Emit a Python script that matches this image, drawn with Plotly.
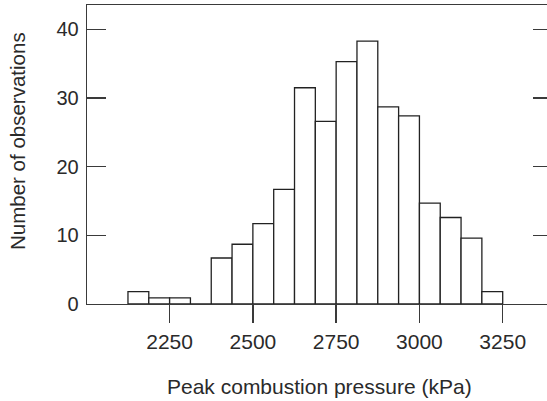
import plotly.graph_objects as go

# Histogram data
bin_left = [2125, 2187.5, 2250, 2312.5, 2375, 2437.5, 2500, 2562.5, 2625,
            2687.5, 2750, 2812.5, 2875, 2937.5, 3000, 3062.5, 3125, 3187.5]
counts = [1.8, 0.9, 0.9, 0, 6.7, 8.7, 11.7, 16.7, 31.5,
          26.6, 35.3, 38.3, 28.7, 27.4, 14.7, 12.6, 9.6, 1.8]
bin_width = 62.5
x_ticks = [2250, 2500, 2750, 3000, 3250]
y_ticks = [0, 10, 20, 30, 40]
x_title = "Peak combustion pressure (kPa)"
y_title = "Number of observations"

centers = [b + bin_width / 2 for b in bin_left]

FONT = "Liberation Sans, Arial, Helvetica, sans-serif"
INK = "#2a2a2a"
LINE = "#3a3a3a"

fig = go.Figure()
fig.add_trace(go.Bar(
    x=centers, y=counts, width=[bin_width] * len(centers),
    marker=dict(color="white", line=dict(color="#222222", width=1.3)),
    hoverinfo="skip", showlegend=False,
))
# invisible companion trace so the right-hand tick axis is rendered
fig.add_trace(go.Scatter(
    x=centers, y=counts, mode="markers", marker=dict(opacity=0),
    yaxis="y2", hoverinfo="skip", showlegend=False,
))

fig.update_layout(
    width=547, height=401,
    margin=dict(l=87, r=0, t=5, b=97, autoexpand=False),
    paper_bgcolor="white", plot_bgcolor="white",
    font=dict(family=FONT, size=21, color=INK),
    bargap=0,
    xaxis=dict(
        range=[2002, 3383], tickvals=x_ticks, ticktext=[str(v) for v in x_ticks],
        showline=True, linecolor=LINE, linewidth=1.3, mirror=True,
        ticks="outside", ticklen=18, tickwidth=1.3, tickcolor=LINE,
        showgrid=False, zeroline=False, automargin=False,
        tickfont=dict(family=FONT, size=21, color=INK),
        ticklabelstandoff=0,
    ),
    yaxis=dict(
        range=[0, 43.55], tickvals=y_ticks, ticktext=[str(v) for v in y_ticks],
        showline=True, linecolor=LINE, linewidth=1.3,
        ticks="inside", ticklen=19, tickwidth=1.3, tickcolor=LINE,
        showgrid=False, zeroline=False, automargin=False,
        tickfont=dict(family=FONT, size=20, color=INK),
        ticklabelstandoff=3,
    ),
    yaxis2=dict(
        range=[0, 43.55], tickvals=y_ticks, overlaying="y", side="right",
        anchor="x", showline=False, showticklabels=False, automargin=False,
        ticks="inside", ticklen=14, tickwidth=1.3, tickcolor=LINE,
        showgrid=False, zeroline=False,
    ),
    annotations=[
        dict(text=x_title, xref="paper", yref="paper",
             x=(319.5 - 87) / 460, y=-(386 - 304) / 299,
             xanchor="center", yanchor="middle", showarrow=False,
             font=dict(family=FONT, size=21, color=INK)),
        dict(text=y_title, xref="paper", yref="paper",
             x=(17 - 87) / 460, y=(304 - 141) / 299, textangle=-90,
             xanchor="center", yanchor="middle", showarrow=False,
             font=dict(family=FONT, size=20.5, color=INK)),
    ],
)

fig.write_html(
    "out.html",
    config={"displayModeBar": False, "staticPlot": True},
    post_script="document.body.style.margin='0';document.body.style.overflow='hidden';",
)
